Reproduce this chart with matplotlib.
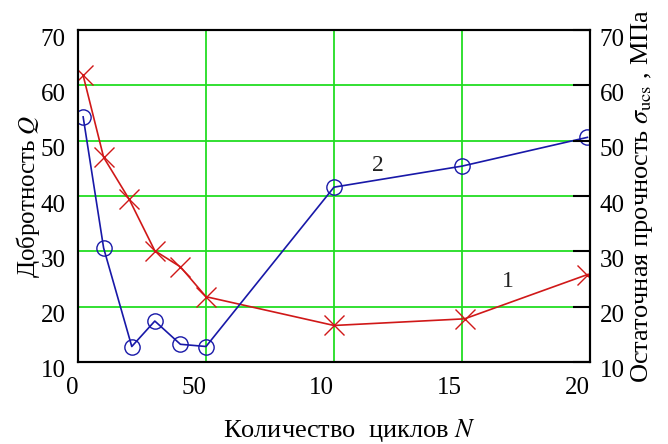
import matplotlib
matplotlib.use("Agg")
import matplotlib.pyplot as plt
import matplotlib.transforms as mtransforms

plt.rcParams["font.family"] = ["Liberation Serif", "DejaVu Serif"]
plt.rcParams["mathtext.fontset"] = "stix"

# curve 1 (red, crosses)
n1 = [2, 10, 20, 30, 40, 50, 100, 151, 199]
s1 = [61.8, 47, 39.4, 30.1, 27.2, 21.8, 16.6, 17.8, 25.8]
# curve 2 (blue, circles)
n2 = [2, 10, 21, 30, 40, 50, 100, 150, 199]
q2 = [54.3, 30.6, 12.8, 17.4, 13.2, 12.8, 41.6, 45.4, 50.6]

x_ticks = [0, 50, 100, 150, 200]
x_labels = ["0", "50", "10", "15", "20"]
y_ticks = [10, 20, 30, 40, 50, 60, 70]

red = "#d01818"
blue = "#1818a8"
green = "#22dd22"

fig = plt.figure(figsize=(6.68, 4.44), dpi=100)
ax = fig.add_axes([0.1168, 0.1847, 0.7664, 0.7477])
ax.set_xlim(0, 200)
ax.set_ylim(10, 70)

ax.plot(n1, s1, color=red, lw=1.2, marker="x", ms=14, mew=1.0, zorder=3)
ax.plot(n2, q2, color=blue, lw=1.2, marker="o", ms=11, mew=1.0,
        mfc="none", zorder=3)

ax.set_xticks(x_ticks)
ax.set_xticklabels(x_labels, ha="right")
ax.set_yticks(y_ticks)
ax.grid(True, color=green, lw=1.3)
ax.set_axisbelow(True)
ax.tick_params(axis="both", length=0, labelsize=18)
ax.tick_params(axis="x", pad=11)
ax.tick_params(axis="y", pad=9)

ax2 = ax.twinx()
ax2.set_ylim(10, 70)
ax2.set_yticks(y_ticks)
ax2.tick_params(axis="y", direction="in", length=12, width=1.5,
                color="black", labelsize=18, pad=7)

for a in (ax, ax2):
    for sp in a.spines.values():
        sp.set_linewidth(1.5)
        sp.set_color("black")

# tick numbers sit a little below their grid lines in the original
shift = mtransforms.ScaledTranslation(0, -7 / 100, fig.dpi_scale_trans)
for lbl in ax.get_yticklabels() + ax2.get_yticklabels():
    lbl.set_transform(lbl.get_transform() + shift)

ax.text(117, 45.5, "2", fontsize=17, ha="center", va="center", color="#222222")
ax.text(168, 24.5, "1", fontsize=17, ha="center", va="center", color="#222222")

ax.set_ylabel("Добротность $Q$", fontsize=18, labelpad=-1)
ax.set_xlabel("Количество  циклов $N$", fontsize=19, labelpad=13)
ax.xaxis.label.set_x(0.53)
ax2.set_ylabel(r"Остаточная прочность $\sigma_{\mathrm{ucs}}$ , МПа",
               fontsize=19, labelpad=3)

fig.savefig("out.png", dpi=100)
